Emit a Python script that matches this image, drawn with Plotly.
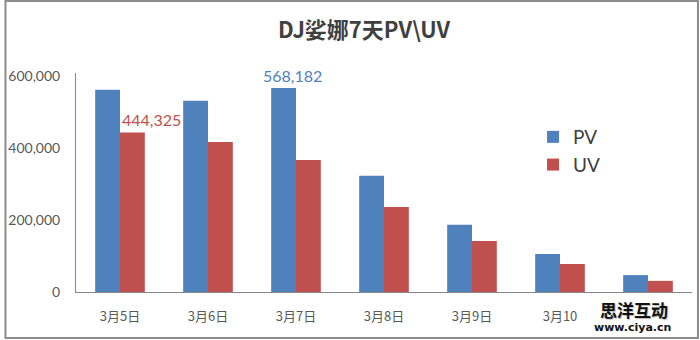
import plotly.graph_objects as go

categories = ["3月5日", "3月6日", "3月7日", "3月8日", "3月9日", "3月10", "3月11日"]
tick_labels = ["3月5日", "3月6日", "3月7日", "3月8日", "3月9日", "3月10", ""]
pv = [563000, 533000, 568182, 324000, 187000, 106000, 47000]
uv = [444325, 418000, 368000, 237000, 142000, 78000, 31000]
pv_labels = ["", "", "568,182", "", "", "", ""]
uv_labels = ["444,325", "", "", "", "", "", ""]
y_ticks = [0, 200000, 400000, 600000]
y_tick_labels = ["0", "200,000", "400,000", "600,000"]

FONT = "Lato, 'Noto Sans CJK SC', sans-serif"
CJK = "'Noto Sans CJK SC', sans-serif"
PV_COLOR = "#4F81BD"
UV_COLOR = "#C0504D"

fig = go.Figure()
fig.add_trace(go.Bar(x=categories, y=pv, name="PV", marker=dict(color=PV_COLOR, line=dict(width=0))))
fig.add_trace(go.Bar(x=categories, y=uv, name="UV", marker=dict(color=UV_COLOR, line=dict(width=0))))

L, R, T, B = 72, 8, 73, 48
W, H = 700, 340
pw, ph = W - L - R, H - T - B


def px_x(x):
    return (x - L) / pw


def px_y(y):
    return (H - B - y) / ph


# data labels
for cat, val, lab in zip(categories, pv, pv_labels):
    if lab:
        fig.add_annotation(x=cat, y=val, text=lab, showarrow=False, xanchor="center", yanchor="bottom",
                           xshift=-4, yshift=1, font=dict(family=FONT, size=16, color=PV_COLOR))
for cat, val, lab in zip(categories, uv, uv_labels):
    if lab:
        fig.add_annotation(x=cat, y=val, text=lab, showarrow=False, xanchor="center", yanchor="bottom",
                           xshift=31, yshift=1, font=dict(family=FONT, size=16, color=UV_COLOR))

fig.update_layout(
    width=W, height=H,
    margin=dict(l=L, r=R, t=T, b=B, pad=0),
    paper_bgcolor="white", plot_bgcolor="white",
    barmode="group", bargap=0.436, bargroupgap=0,
    title=dict(text="<b>DJ娑娜7天PV\\UV</b>", x=0.52, xanchor="center", y=0.91, yanchor="middle",
               font=dict(family=CJK, size=22, color="#404040")),
    legend=dict(x=px_x(532), y=px_y(118), xanchor="left", yanchor="top",
                font=dict(family=FONT, size=19, color="#404040"), bgcolor="rgba(0,0,0,0)",
                itemwidth=30, tracegroupgap=0),
    xaxis=dict(type="category", tickvals=categories, ticktext=tick_labels, showline=True,
               linecolor="#868686", linewidth=1, ticks="", showgrid=False,
               tickfont=dict(family=CJK, size=13, color="#595959"), ticklabelstandoff=12),
    yaxis=dict(range=[0, 610000], tickvals=y_ticks, ticktext=y_tick_labels, showline=True,
               linecolor="#868686", linewidth=1, ticks="", showgrid=False, zeroline=False,
               tickfont=dict(family=FONT, size=14, color="#595959"), ticklabelstandoff=12),
    font=dict(family=FONT),
    showlegend=True,
)

# outer border of the image
fig.add_shape(type="rect", xref="paper", yref="paper",
              x0=px_x(1), x1=px_x(W - 2), y0=px_y(H - 2), y1=px_y(1),
              line=dict(color="#8c8c8c", width=2), fillcolor="rgba(0,0,0,0)", layer="above")

# watermark
fig.add_annotation(xref="paper", yref="paper", x=px_x(634), y=px_y(309),
                   text="<b>思洋互动</b>", showarrow=False, xanchor="center", yanchor="middle",
                   borderpad=0, font=dict(family=CJK, size=17, color="#111111", shadow="1px 1px 1px #bbb"))
fig.add_annotation(xref="paper", yref="paper", x=px_x(632), y=px_y(327),
                   text="<b>www.ciya.cn</b>", showarrow=False, xanchor="center", yanchor="middle",
                   borderpad=0, font=dict(family="DejaVu Sans, sans-serif", size=11, color="#111111"))

fig.write_html("out.html")
